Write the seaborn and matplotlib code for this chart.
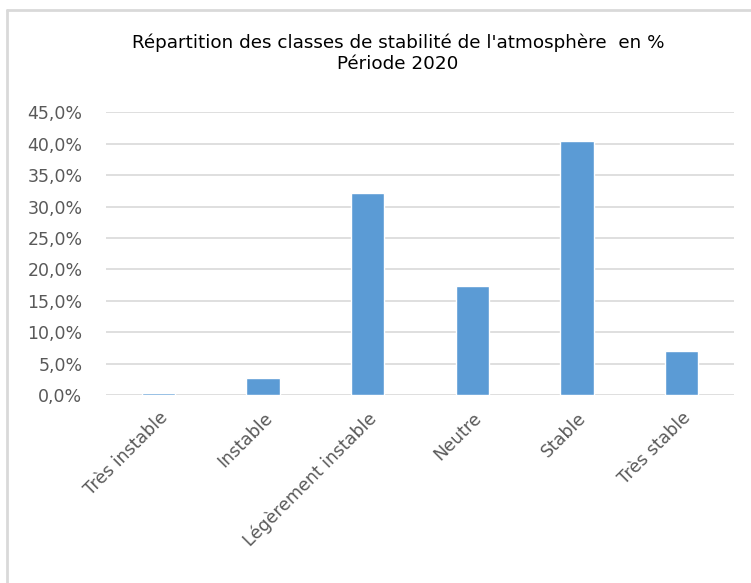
import matplotlib
matplotlib.use("Agg")
import matplotlib.pyplot as plt
import seaborn as sns
import pandas as pd
from matplotlib.lines import Line2D
from matplotlib.ticker import FuncFormatter, MultipleLocator

categories = ["Très instable", "Instable", "Légèrement instable", "Neutre", "Stable", "Très stable"]
values = [0.3, 2.7, 32.1, 17.4, 40.4, 7.0]
title_text = "Répartition des classes de stabilité de l'atmosphère  en %\nPériode 2020"

sns.set_style("white")
plt.rcParams['font.family'] = ['DejaVu Sans']

df = pd.DataFrame({"classe": categories, "pct": values})

fig = plt.figure(figsize=(7.51, 5.83), dpi=100)
ax = fig.add_axes([106/751, 1-395/583, (734-106)/751, (395-112.3)/583])

sns.barplot(data=df, x="classe", y="pct", color="#5b9bd5", width=0.32,
            saturation=1, ax=ax, zorder=3)

ax.set_ylim(0, 45)
ax.set_xlim(-0.5, len(categories)-0.5)
ax.yaxis.set_major_locator(MultipleLocator(5))
ax.yaxis.set_major_formatter(FuncFormatter(lambda v, p: f"{v:.1f}".replace(".", ",") + "%"))
ax.grid(axis="y", color="#d9d9d9", linewidth=1.2, zorder=0)
ax.set_axisbelow(True)
for s in ax.spines.values():
    s.set_visible(False)
ax.set_xlabel("")
ax.set_ylabel("")
ax.tick_params(axis="both", length=0)
ax.tick_params(axis="y", pad=17)
for lab in ax.get_yticklabels():
    lab.set_fontsize(12.5)
    lab.set_color("#595959")
ax.set_xticks(range(len(categories)))
ax.set_xticklabels(categories, rotation=45, ha="right", rotation_mode="anchor",
                   fontsize=12.5, color="#595959")
ax.tick_params(axis="x", pad=10)

fig.text(398/751, 1-33/583, title_text, ha="center", va="top", fontsize=13.2,
         color="#000000", linespacing=1.25)

fig.add_artist(Line2D([7/751, 7/751], [0, 1-10/583], transform=fig.transFigure,
                      color="#d9d9d9", linewidth=2))
fig.add_artist(Line2D([7/751, 1], [1-10/583, 1-10/583], transform=fig.transFigure,
                      color="#d9d9d9", linewidth=2))

fig.savefig("out.png", dpi=100)
